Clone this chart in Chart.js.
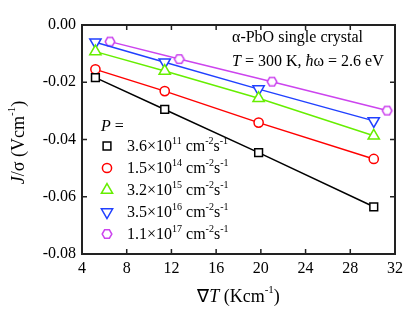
<!DOCTYPE html>
<html>
<head>
<meta charset="utf-8">
<script src="https://cdn.jsdelivr.net/npm/chart.js@4/dist/chart.umd.min.js"></script>
<style>
  html, body { margin: 0; padding: 0; background: #fff; }
  #wrap { width: 416px; height: 316px; }
</style>
</head>
<body>
<div id="wrap"><canvas id="chart" width="416" height="316"></canvas></div>
<script>
// values
const xTicks = [4, 8, 12, 16, 20, 24, 28, 32];
const yTicks = [0, -0.02, -0.04, -0.06, -0.08];

const gradBlack = [5.2, 11.4, 19.8, 30.1];
const jBlack = [-0.0184, -0.0295, -0.0446, -0.0635];

const gradRed = [5.2, 11.4, 19.8, 30.1];
const jRed = [-0.0155, -0.0231, -0.0341, -0.0468];

const gradGreen = [5.2, 11.4, 19.8, 30.1];
const jGreen = [-0.0093, -0.0161, -0.0256, -0.0387];

const gradBlue = [5.2, 11.4, 19.8, 30.1];
const jBlue = [-0.006, -0.013, -0.0224, -0.0335];

const gradPurple = [6.5, 12.7, 21.0, 31.3];
const jPurple = [-0.0058, -0.0119, -0.0198, -0.0299];

const legendMant = ["3.6", "1.5", "3.2", "3.5", "1.1"];
const legendExp = ["11", "14", "15", "16", "17"];

const SERIF = "'Liberation Serif', 'Times New Roman', serif";
Chart.defaults.font.family = SERIF;

// hexagon marker, there is no built-in one
function hexagon(color, r) {
  const c = document.createElement("canvas");
  const s = Math.ceil(r * 2 + 4);
  c.width = s; c.height = s;
  const g = c.getContext("2d");
  g.strokeStyle = color;
  g.fillStyle = "#fff";
  g.lineWidth = 1.5;
  g.beginPath();
  for (let i = 0; i < 6; i++) {
    const a = Math.PI / 3 * i;
    const px = s / 2 + r * Math.cos(a), py = s / 2 + r * Math.sin(a);
    if (i === 0) g.moveTo(px, py); else g.lineTo(px, py);
  }
  g.closePath();
  g.fill();
  g.stroke();
  return c;
}

function toXY(xs, ys) {
  return xs.map((x, i) => ({ x: x, y: ys[i] }));
}

const series = [
  { xs: gradBlack, ys: jBlack, color: "#000000", style: "rect", rot: 0, r: 5.5 },
  { xs: gradRed, ys: jRed, color: "#ff0000", style: "circle", rot: 0, r: 4.6 },
  { xs: gradGreen, ys: jGreen, color: "#66ee00", style: "triangle", rot: 0, r: 6.5 },
  { xs: gradBlue, ys: jBlue, color: "#2040ff", style: "triangle", rot: 180, r: 6.5 },
  { xs: gradPurple, ys: jPurple, color: "#cc44ee", style: hexagon("#cc44ee", 4.8), rot: 0, r: 5 },
];

// text with superscripts: parts = [[text, sup?, italic?], ...]
function richText(g, parts, x, y, size) {
  let cx = x;
  parts.forEach((p) => {
    const sup = p[1];
    const fs = sup ? Math.round(size * 0.62) : size;
    g.font = (p[2] ? "italic " : "") + fs + "px " + SERIF;
    g.fillText(p[0], cx, sup ? y - size * 0.38 : y);
    cx += g.measureText(p[0]).width;
  });
  return cx - x;
}

function richWidth(g, parts, size) {
  let w = 0;
  parts.forEach((p) => {
    const fs = p[1] ? Math.round(size * 0.62) : size;
    g.font = (p[2] ? "italic " : "") + fs + "px " + SERIF;
    w += g.measureText(p[0]).width;
  });
  return w;
}

const decor = {
  id: "decor",
  afterDatasetsDraw(chart) {
    const g = chart.ctx;
    const a = chart.chartArea;
    const xs = chart.scales.x, ys = chart.scales.y;
    g.save();

    // frame + inward ticks
    g.strokeStyle = "#222";
    g.lineWidth = 2;
    g.strokeRect(a.left, a.top, a.right - a.left, a.bottom - a.top);
    g.lineWidth = 1.5;
    g.beginPath();
    xTicks.slice(1, -1).forEach((v) => {
      const px = xs.getPixelForValue(v);
      g.moveTo(px, a.bottom); g.lineTo(px, a.bottom - 5);
      g.moveTo(px, a.top); g.lineTo(px, a.top + 5);
    });
    yTicks.slice(1, -1).forEach((v) => {
      const py = ys.getPixelForValue(v);
      g.moveTo(a.left, py); g.lineTo(a.left + 5, py);
      g.moveTo(a.right, py); g.lineTo(a.right - 5, py);
    });
    g.stroke();

    g.fillStyle = "#000";
    g.textBaseline = "middle";
    g.textAlign = "left";

    // axis titles
    const xt = [["\u2207", false, false], ["T", false, true], [" (Kcm", false, false], ["-1", true, false], [")", false, false]];
    const xw = richWidth(g, xt, 18);
    richText(g, xt, (a.left + a.right) / 2 - xw / 2, 297, 18);

    const yt = [["J", false, true], ["/\u03c3 (Vcm", false, false], ["-1", true, false], [")", false, false]];
    const yw = richWidth(g, yt, 18);
    g.save();
    g.translate(19, (a.top + a.bottom) / 2 + 3);
    g.rotate(-Math.PI / 2);
    richText(g, yt, -yw / 2, 0, 18);
    g.restore();

    // annotation
    richText(g, [["\u03b1-PbO single crystal", false, false]], 232, 38, 16);
    richText(g, [["T", false, true], [" = 300 K, ", false, false], ["\u0127", false, true], ["\u03c9 = 2.6 eV", false, false]], 232, 62, 16);

    // legend
    richText(g, [["P", false, true], [" =", false, false]], 101, 127, 16);
    series.forEach((s, i) => {
      const ly = 146 + i * 22;
      g.strokeStyle = s.color;
      g.fillStyle = "#fff";
      g.lineWidth = 1.5;
      Chart.helpers.drawPoint(g, { pointStyle: s.style, rotation: s.rot, radius: s.r, borderWidth: 1.5 }, 107, ly);
      g.fillStyle = "#000";
      richText(g, [[legendMant[i] + "\u00d710", false, false], [legendExp[i], true, false], [" cm", false, false], ["-2", true, false], ["s", false, false], ["-1", true, false]], 127, ly + 1, 16);
    });
    g.restore();
  },
};

const ctx = document.getElementById("chart").getContext("2d");
new Chart(ctx, {
  type: "scatter",
  data: {
    datasets: series.map((s) => ({
      data: toXY(s.xs, s.ys),
      showLine: true,
      borderColor: s.color,
      backgroundColor: "#fff",
      borderWidth: 1.5,
      pointStyle: s.style,
      pointRotation: s.rot,
      pointRadius: s.r,
      pointBorderWidth: 1.5,
      pointBorderColor: s.color,
      pointBackgroundColor: "#fff",
    })),
  },
  options: {
    responsive: false,
    animation: false,
    layout: { padding: { top: 25, right: 21, left: 0, bottom: 0 } },
    plugins: { legend: { display: false }, tooltip: { enabled: false } },
    scales: {
      x: {
        type: "linear",
        min: 4, max: 32,
        afterBuildTicks: (s) => { s.ticks = xTicks.map((v) => ({ value: v })); },
        afterFit: (s) => { s.height = 62; },
        grid: { display: false, drawTicks: false },
        border: { display: false },
        ticks: { color: "#000", padding: 5, font: { family: SERIF, size: 16 }, maxRotation: 0 },
      },
      y: {
        type: "linear",
        min: -0.08, max: 0,
        afterBuildTicks: (s) => { s.ticks = yTicks.map((v) => ({ value: v })); },
        afterFit: (s) => { s.width = 82; },
        grid: { display: false, drawTicks: false },
        border: { display: false },
        ticks: { color: "#000", padding: 6, font: { family: SERIF, size: 16 }, callback: (v) => v.toFixed(2) },
      },
    },
  },
  plugins: [decor],
});
</script>
</body>
</html>
